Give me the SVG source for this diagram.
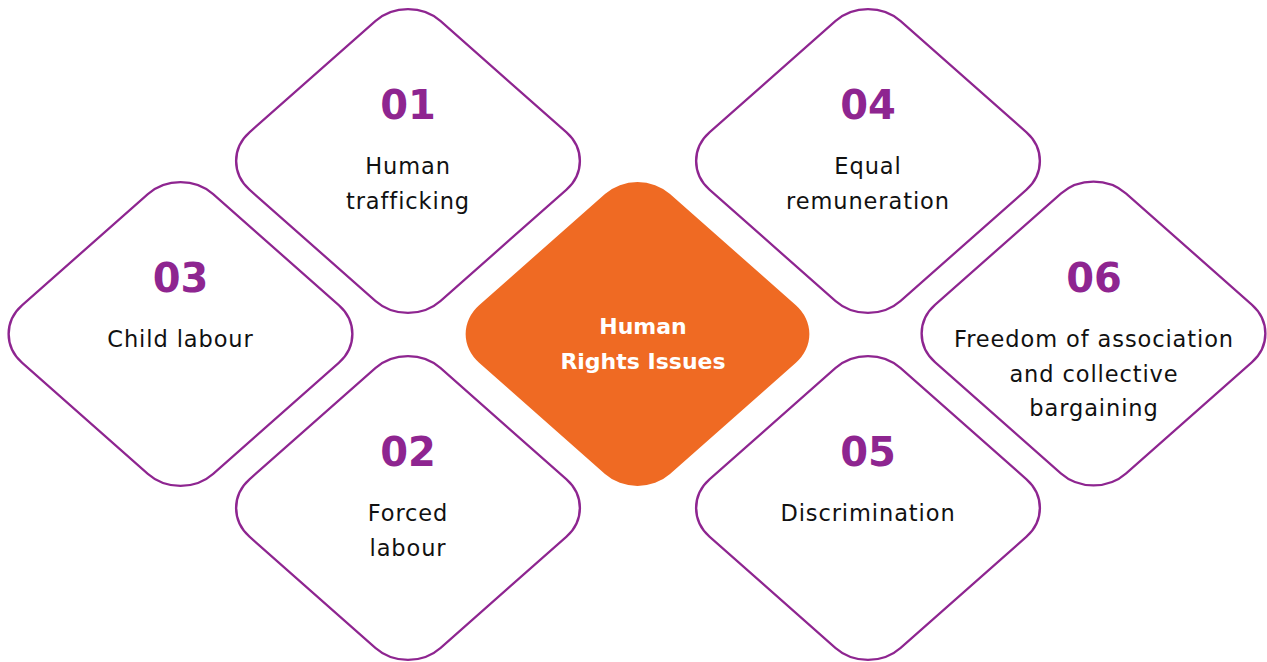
<svg xmlns="http://www.w3.org/2000/svg" width="1267" height="662" viewBox="0 0 1267 662">
  <style>
    .frame { fill: #ffffff; stroke: #8e2590; stroke-width: 2.4; vector-effect: non-scaling-stroke; }
    .core { fill: #ef6a23; stroke: none; }
    .num { font-family: "DejaVu Sans", sans-serif; font-weight: bold; font-size: 40px; fill: #8e2590; text-anchor: middle; }
    .lbl { font-family: "DejaVu Sans", sans-serif; font-size: 22.5px; fill: #111111; text-anchor: middle; letter-spacing: 0.9px; }
    .hub { font-family: "DejaVu Sans", sans-serif; font-weight: bold; font-size: 22px; fill: #ffffff; text-anchor: middle; }
  </style>
  <defs>
    <!-- rounded square, later rotated and flattened into a diamond -->
    <rect id="tile" x="-135" y="-135" width="270" height="270" rx="46" ry="46"/>
  </defs>
  <rect width="1267" height="662" fill="#ffffff"/>

  <g id="connectors"/>

  <g id="hub">
    <use href="#tile" class="core" transform="translate(637.5,334) scale(1,0.884) rotate(45)"/>
    <text class="hub" x="643" y="334">Human</text>
    <text class="hub" x="643" y="368.5">Rights Issues</text>
  </g>

  <g id="item-01">
    <use href="#tile" class="frame" transform="translate(408,161) scale(1,0.884) rotate(45)"/>
    <text class="num" x="408" y="119">01</text>
    <text class="lbl" x="408" y="174">Human</text>
    <text class="lbl" x="408" y="209">trafficking</text>
  </g>

  <g id="item-02">
    <use href="#tile" class="frame" transform="translate(408,508) scale(1,0.884) rotate(45)"/>
    <text class="num" x="408" y="466">02</text>
    <text class="lbl" x="408" y="521">Forced</text>
    <text class="lbl" x="408" y="556">labour</text>
  </g>

  <g id="item-03">
    <use href="#tile" class="frame" transform="translate(180.5,334) scale(1,0.884) rotate(45)"/>
    <text class="num" x="180.5" y="292">03</text>
    <text class="lbl" x="180.5" y="347">Child labour</text>
  </g>

  <g id="item-04">
    <use href="#tile" class="frame" transform="translate(868,161) scale(1,0.884) rotate(45)"/>
    <text class="num" x="868" y="119">04</text>
    <text class="lbl" x="868" y="174">Equal</text>
    <text class="lbl" x="868" y="209">remuneration</text>
  </g>

  <g id="item-05">
    <use href="#tile" class="frame" transform="translate(868,508) scale(1,0.884) rotate(45)"/>
    <text class="num" x="868" y="466">05</text>
    <text class="lbl" x="868" y="521">Discrimination</text>
  </g>

  <g id="item-06">
    <use href="#tile" class="frame" transform="translate(1093.5,333.5) scale(1,0.884) rotate(45)"/>
    <text class="num" x="1094" y="292">06</text>
    <text class="lbl" x="1094" y="347">Freedom of association</text>
    <text class="lbl" x="1094" y="381.5">and collective</text>
    <text class="lbl" x="1094" y="416">bargaining</text>
  </g>
</svg>
